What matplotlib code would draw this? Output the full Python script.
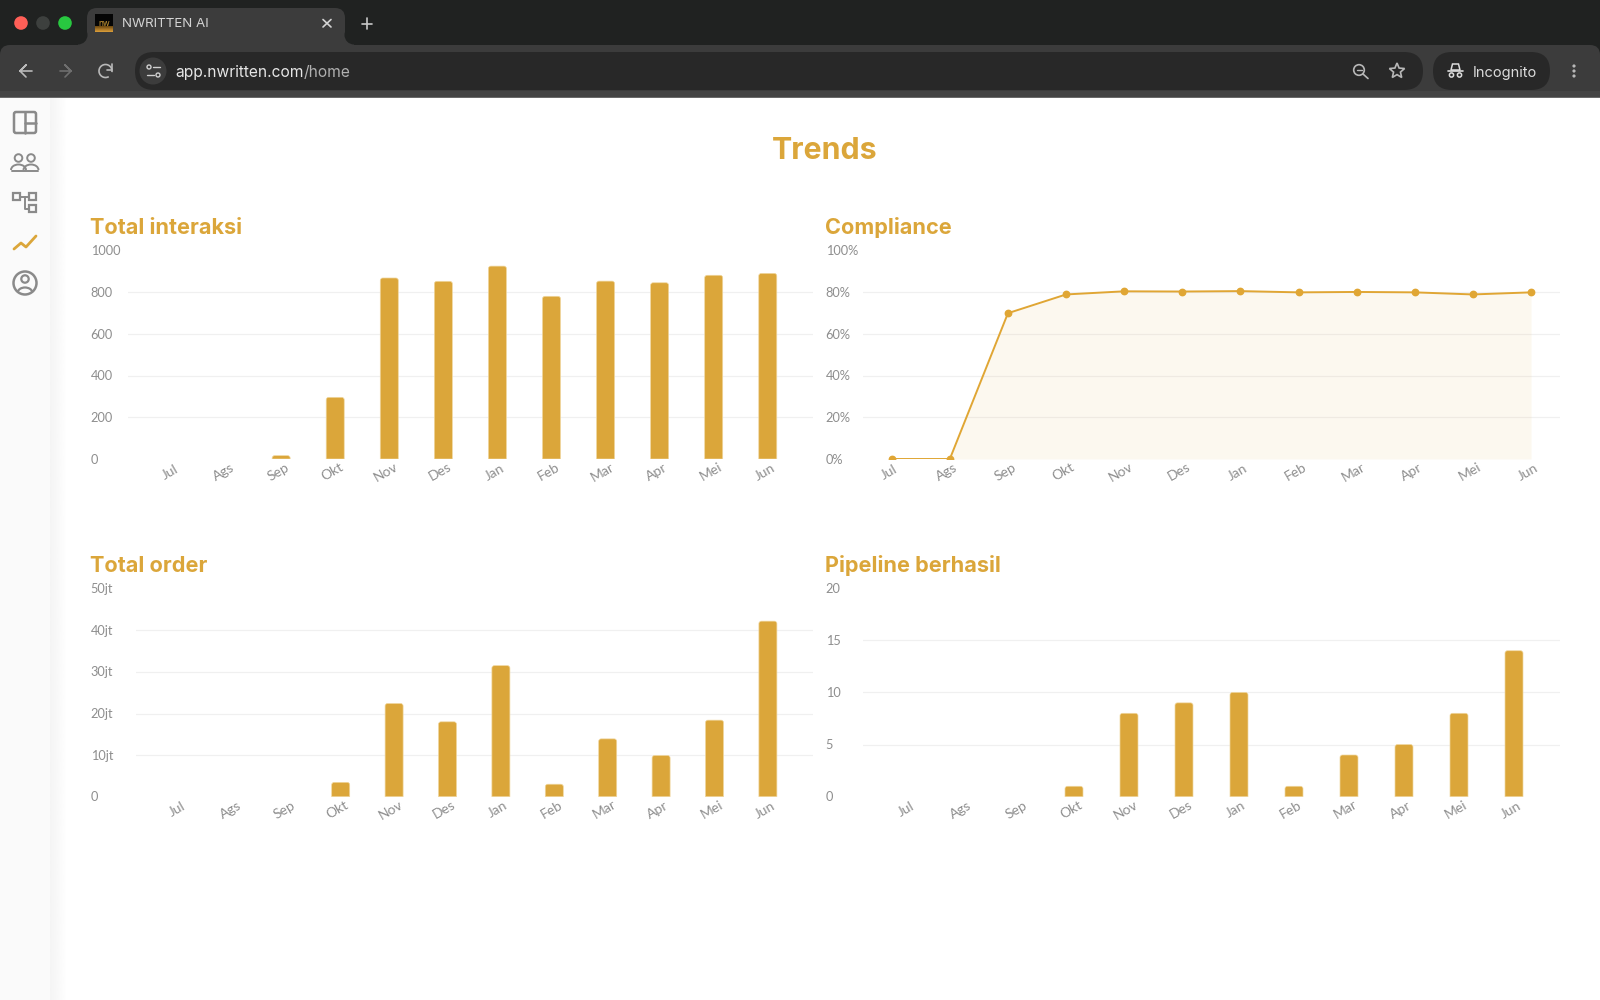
import numpy as np
import matplotlib
matplotlib.use("Agg")
import matplotlib.pyplot as plt
from matplotlib.patches import Rectangle, Circle, FancyBboxPatch, PathPatch, Arc, Polygon
from matplotlib.path import Path
from matplotlib.transforms import ScaledTranslation

# ---- data ----
months = ["Jul", "Ags", "Sep", "Okt", "Nov", "Des", "Jan", "Feb", "Mar", "Apr", "Mei", "Jun"]
interaksi = [0, 0, 16, 296, 869, 853, 926, 781, 854, 846, 882, 891]
compliance = [0, 0, 70, 79, 80.5, 80.4, 80.6, 80, 80.2, 80, 79, 80]
orders = [0, 0, 0, 3.45, 22.4, 18.0, 31.5, 3.0, 13.9, 9.9, 18.4, 42.2]
pipeline = [0, 0, 0, 1, 8, 9, 10, 1, 4, 5, 8, 14]

interaksi_ticks = [0, 200, 400, 600, 800, 1000]
compliance_ticks = [0, 20, 40, 60, 80, 100]
compliance_labels = ["0%", "20%", "40%", "60%", "80%", "100%"]
orders_ticks = [0, 10, 20, 30, 40, 50]
orders_labels = ["0", "10jt", "20jt", "30jt", "40jt", "50jt"]
pipeline_ticks = [0, 5, 10, 15, 20]

# ---- style ----
GOLD = "#dba63a"
LINE_GOLD = "#e0a634"
GRID = "#f0f0f0"
TICK = "#8e8e8e"
W, H = 1600, 1000
UI_FONT = ["Inter", "DejaVu Sans"]
HEAD_FONT = ["Inter", "DejaVu Sans"]
TICK_FONT = ["Lato", "DejaVu Sans"]

fig = plt.figure(figsize=(W / 100, H / 100), dpi=100, facecolor="white")

# ---- window frame, drawn in a pixel-addressed layer ----
ui = fig.add_axes([0, 0, 1, 1], zorder=0)
ui.set_xlim(0, W)
ui.set_ylim(H, 0)
ui.axis("off")

BAR_BG = "#202221"
TOOL_BG = "#3c3c3c"
FIELD = "#282828"


def rect(x, y, w, h, c, z=1):
    ui.add_patch(Rectangle((x, y), w, h, fc=c, ec="none", zorder=z))


def rrect(x, y, w, h, r, c, z=1, ec="none", lw=0):
    ui.add_patch(FancyBboxPatch((x + r, y + r), w - 2 * r, h - 2 * r,
                                boxstyle=f"round,pad={r},rounding_size={r}",
                                fc=c, ec=ec, lw=lw, zorder=z))


def stroke(xs, ys, c, lw=1.2, z=5):
    ui.plot(xs, ys, color=c, lw=lw, solid_capstyle="round", solid_joinstyle="round", zorder=z)


rect(0, 0, W, 98, BAR_BG)
rrect(0, 45, W, 70, 10, TOOL_BG, z=2)
rect(0, 91, W, 7, "#444444", z=2)

# active tab with its flared lower corners
rrect(87, 8, 258, 60, 10, TOOL_BG, z=2)
for cx, side in ((78, 78), (354, 344)):
    rect(side, 35, 10, 11, TOOL_BG, z=2)
    ui.add_patch(Circle((cx, 35), 9.5, fc=BAR_BG, ec="none", zorder=2.1))

# page surface hides the lower part of the toolbar shape
rect(0, 98, W, H - 98, "white", z=2.5)
rect(0, 97, W, 1.2, "#6a6a6a", z=2.6)

for x, c in ((21, "#ff5f57"), (43, "#3d403e"), (65, "#28c840")):
    ui.add_patch(Circle((x, 23), 6.8, fc=c, ec="none", zorder=4))

# favicon
rect(95, 14, 18, 18, "#050505", z=4)
ramp = np.linspace(0, 1, 20)[:, None, None]
ui.imshow(ramp * np.array([[[0.86, 0.62, 0.23]]]) + (1 - ramp) * np.array([[[0.42, 0.28, 0.06]]]),
          extent=(95, 113, 32, 26), aspect="auto", zorder=4.5)
ui.set_xlim(0, W)
ui.set_ylim(H, 0)
ui.text(104, 23.5, "nw", color="#c99a35", fontsize=6, ha="center", va="center", family=UI_FONT, zorder=5)

ui.text(122, 24, "NWRITTEN AI", color="#d4d4d4", fontsize=9.6, va="center", family=UI_FONT, zorder=5)
stroke([323, 331], [19.5, 27], "#d4d4d4")
stroke([331, 323], [19.5, 27], "#d4d4d4")
stroke([361.5, 372], [23.5, 23.5], "#c8c8c8")
stroke([366.7, 366.7], [18, 28.5], "#c8c8c8")

# back / forward / reload
stroke([32, 20, 26, 20, 26], [71, 71, 65, 71, 77], "#b8b8b8")
stroke([60, 71, 65, 71, 65], [71, 71, 65, 71, 77], "#6e6e6e")
ui.add_patch(Arc((105.5, 71), 13, 13, theta1=-300, theta2=10, ec="#b8b8b8", lw=1.2, zorder=5))
stroke([112, 112, 107], [64, 70, 70], "#b8b8b8")

# address field
rrect(135, 52, 1288, 38, 19, FIELD, z=3)
ui.add_patch(Circle((153, 71), 13.5, fc=TOOL_BG, ec="none", zorder=4))
ui.add_patch(Circle((149, 67), 2, fc="none", ec="#d0d0d0", lw=1.0, zorder=5))
stroke([153, 160], [67, 67], "#d0d0d0", 1.0)
stroke([147, 154], [75, 75], "#d0d0d0", 1.0)
ui.add_patch(Circle((158, 75), 2, fc="none", ec="#d0d0d0", lw=1.0, zorder=5))
url_a = ui.text(175, 72.3, "app.nwritten.com", color="#e6e6e6", fontsize=11.2, va="center", family=UI_FONT, zorder=5)
fig.canvas.draw()
url_end = url_a.get_window_extent().x1
ui.text(url_end, 72.3, "/home", color="#b0b0b0", fontsize=11.2, va="center", family=UI_FONT, zorder=5)

# zoom glass and bookmark star
ui.add_patch(Circle((1359, 70), 5.3, fc="none", ec="#b8b8b8", lw=1.2, zorder=5))
stroke([1363, 1368], [74, 78.5], "#b8b8b8")
stroke([1356.5, 1361.5], [70, 70], "#b8b8b8", 1.0)
ang = np.deg2rad(np.arange(10) * 36 - 90)
rad = np.array([8, 3.6] * 5)
ui.add_patch(Polygon(np.c_[1397 + rad * np.cos(ang), 71 + rad * np.sin(ang)], closed=True,
                     fc="none", ec="#b8b8b8", lw=1.2, zorder=5))

# incognito pill and menu
rrect(1433, 52, 117, 38, 19, FIELD, z=3)
stroke([1448, 1463], [71, 71], "#dcdcdc", 1.2)
ui.add_patch(Polygon([(1451, 70), (1452.5, 64), (1458.5, 64), (1460, 70)], closed=True,
                     fc="none", ec="#dcdcdc", lw=1.1, zorder=5))
ui.add_patch(Circle((1451.5, 75), 2.1, fc="none", ec="#dcdcdc", lw=1.1, zorder=5))
ui.add_patch(Circle((1459.5, 75), 2.1, fc="none", ec="#dcdcdc", lw=1.1, zorder=5))
ui.text(1473, 73, "Incognito", color="#dcdcdc", fontsize=10.5, va="center", family=UI_FONT, zorder=5)
for y in (66, 71, 76):
    ui.add_patch(Circle((1574, y), 1.6, fc="#b8b8b8", ec="none", zorder=5))

# navigation rail and its soft shadow
rect(0, 98, 50, 902, "#fafafa", z=3)
ui.imshow(np.linspace(0.93, 1.0, 24)[None, :] ** 0.6, cmap="gray", vmin=0, vmax=1,
          extent=(50, 68, 1000, 98), aspect="auto", zorder=3)
ui.set_xlim(0, W)
ui.set_ylim(H, 0)

ICON = "#8a8a8a"
rrect(14, 112, 22, 21, 2, "none", z=5, ec=ICON, lw=1.8)
stroke([25, 25], [112, 133], ICON, 1.8)
stroke([25, 36], [123, 123], ICON, 1.8)

for cx in (18.5, 31):
    ui.add_patch(Circle((cx, 158), 3.8, fc="none", ec=ICON, lw=1.4, zorder=5))
    ui.add_patch(Arc((cx, 170), 15, 11, theta1=180, theta2=360, ec=ICON, lw=1.4, zorder=5))
stroke([12, 38], [170.5, 170.5], ICON, 1.4)

for x, y in ((13, 193), (29, 193), (29, 205)):
    ui.add_patch(Rectangle((x, y), 7, 7, fc="none", ec=ICON, lw=1.6, zorder=5))
stroke([20, 29], [197, 197], ICON, 1.4)
stroke([25, 25, 29], [197, 209, 209], ICON, 1.4)

stroke([14, 21, 26, 36], [249, 243, 247, 236], GOLD, 2.0)

ui.add_patch(Circle((25, 283), 11.5, fc="none", ec=ICON, lw=1.8, zorder=5))
ui.add_patch(Circle((25, 279), 3.7, fc="none", ec=ICON, lw=1.6, zorder=5))
ui.add_patch(Arc((25, 293), 15, 11, theta1=190, theta2=350, ec=ICON, lw=1.6, zorder=5))

# ---- page heading ----
ui.text(825, 159, "Trends", color=GOLD, fontsize=21.8, fontweight="bold", ha="center", va="baseline",
        family=HEAD_FONT, zorder=5)


# ---- charts ----
def make_axes(left, right, top, bottom, x0, step):
    ax = fig.add_axes([left / W, 1 - bottom / H, (right - left) / W, (bottom - top) / H], zorder=2)
    ax.patch.set_alpha(0)
    for s in ax.spines.values():
        s.set_visible(False)
    ax.set_xlim((left - x0) / step, (right - x0) / step)
    return ax


def finish_axes(ax, ticks, labels, label_left, left, title, title_base):
    ax.set_ylim(ticks[0], ticks[-1])
    ax.set_yticks(ticks)
    ax.set_yticklabels(labels)
    ax.set_xticks(range(len(months)))
    ax.set_xticklabels(months)
    ax.set_axisbelow(True)
    ax.yaxis.grid(True, color=GRID, lw=0.9)
    gl = ax.get_ygridlines()
    gl[0].set_visible(False)
    gl[-1].set_visible(False)
    ax.tick_params(axis="both", length=0, labelcolor=TICK)
    ax.tick_params(axis="y", pad=(left - label_left) * 0.72, labelsize=9.2)
    ax.tick_params(axis="x", pad=9.4, labelsize=10)
    lift = ScaledTranslation(0, 0.5 / 100, fig.dpi_scale_trans)
    for t in ax.get_yticklabels():
        t.set_ha("left")
        t.set_family(TICK_FONT)
        t.set_transform(t.get_transform() + lift)
    shift = ScaledTranslation(-3 / 100, 0, fig.dpi_scale_trans)
    for t in ax.get_xticklabels():
        t.set_rotation(30)
        t.set_rotation_mode("anchor")
        t.set_ha("center")
        t.set_va("center")
        t.set_family(TICK_FONT)
        t.set_transform(t.get_transform() + shift)
    ui.text(label_left - 0.5, title_base, title, color=GOLD, fontsize=15.6, fontweight="bold",
            va="baseline", family=HEAD_FONT, zorder=5)


def rounded_bars(ax, values, step, bottom_px, top_px, ymax, width_px=18, radius_px=2.5):
    """Draw bars through ax.bar, then swap each rectangle for one with soft top corners."""
    bars = ax.bar(range(len(values)), values, width=width_px / step, color=GOLD)
    rx = radius_px / step
    ry_unit = ymax / (bottom_px - top_px)
    for b in list(bars):
        h = b.get_height()
        x, w = b.get_x(), b.get_width()
        b.remove()
        if h <= 0:
            continue
        ry = min(radius_px * ry_unit, h)
        verts = [(x, 0), (x, h - ry), (x, h), (x + rx, h), (x + w - rx, h), (x + w, h), (x + w, h - ry), (x + w, 0), (x, 0)]
        codes = [Path.MOVETO, Path.LINETO, Path.CURVE3, Path.CURVE3, Path.LINETO,
                 Path.CURVE3, Path.CURVE3, Path.LINETO, Path.CLOSEPOLY]
        ax.add_patch(PathPatch(Path(verts, codes), fc=GOLD, ec="#f0d79f", lw=0.5, zorder=3))


# Total interaksi
ax1 = make_axes(128, 813, 250.7, 459, 173, 54.07)
rounded_bars(ax1, interaksi, 54.07, 459, 250.7, interaksi_ticks[-1])
finish_axes(ax1, interaksi_ticks, [str(v) for v in interaksi_ticks], 90.7, 128, "Total interaksi", 234)

# Compliance
ax2 = make_axes(863.3, 1560, 250.7, 459, 891.7, 58.12)
xs = np.arange(len(months))
ax2.fill_between(xs[1:], 0, compliance[1:], color="#e9bd6a", alpha=0.1, lw=0, zorder=3)
ax2.plot(xs, compliance, color=LINE_GOLD, lw=1.4, marker="o", ms=4.6, mec=LINE_GOLD, zorder=4)
finish_axes(ax2, compliance_ticks, compliance_labels, 825.7, 863.3, "Compliance", 234)

# Total order
ax3 = make_axes(136, 813, 588.7, 796.7, 180.5, 53.4)
rounded_bars(ax3, orders, 53.4, 796.7, 588.7, orders_ticks[-1])
finish_axes(ax3, orders_ticks, orders_labels, 90.7, 136, "Total order", 571.7)

# Pipeline berhasil
ax4 = make_axes(862.7, 1560, 588.2, 796.7, 909, 55)
rounded_bars(ax4, pipeline, 55, 796.7, 588.2, pipeline_ticks[-1])
finish_axes(ax4, pipeline_ticks, [str(v) for v in pipeline_ticks], 825.7, 862.7, "Pipeline berhasil", 571.7)

fig.savefig("out.png", dpi=100, facecolor="white")
